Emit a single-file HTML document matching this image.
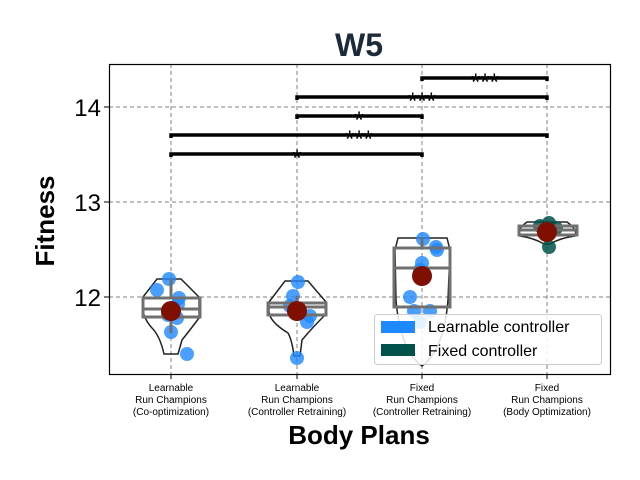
<!DOCTYPE html>
<html><head><meta charset="utf-8"><style>body{margin:0;background:#fff}svg{display:block}</style></head><body>
<svg width="640" height="480" xmlns="http://www.w3.org/2000/svg" font-family="Liberation Sans, DejaVu Sans, sans-serif">
<rect width="640" height="480" fill="#fff"/>
<g stroke="#808080" stroke-width="1" stroke-dasharray="4,3">
<line x1="171" y1="64" x2="171" y2="374"/><line x1="297" y1="64" x2="297" y2="374"/>
<line x1="422" y1="64" x2="422" y2="374"/><line x1="547" y1="64" x2="547" y2="374"/>
<line x1="109" y1="107" x2="610" y2="107"/><line x1="109" y1="202" x2="610" y2="202"/><line x1="109" y1="297" x2="610" y2="297"/>
</g>
<!-- violins -->
<g fill="none" stroke="#222" stroke-width="1.5">
<path d="M157,279 L181,279 L199,297 L199,318 Q190,330 182,340 L178,354 L164,354 Q160,336 152,328 Q143,318 143,308 L143,297 Z"/>
<path d="M285,281 L308,281 L326,302 L326,314 Q312,328 302,340 L300,356 L294,356 Q292,340 288,333 Q270,322 269,312 L269,302 Z"/>
<path d="M398,238 L447,238 L450,250 L448,300 Q444,350 422,366 Q400,350 396,300 L395,250 Z"/>
<path d="M527,222 L567,222 Q578,230 575,236 Q560,238 550,244 L544,244 Q534,238 520,236 Q516,230 527,222 Z"/>
</g>
<!-- points -->
<g fill="#1e88ff" fill-opacity="0.8">
<circle cx="169" cy="279" r="7"/><circle cx="157" cy="290" r="7"/><circle cx="179" cy="298" r="7"/><circle cx="178" cy="304" r="7"/><circle cx="168" cy="315" r="7"/><circle cx="177" cy="318" r="7"/><circle cx="171" cy="332" r="7"/><circle cx="187" cy="354" r="7"/>
<circle cx="298" cy="282" r="7"/><circle cx="293" cy="296" r="7"/><circle cx="290" cy="306" r="7"/><circle cx="310" cy="316" r="7"/><circle cx="307" cy="322" r="7"/><circle cx="297" cy="358" r="7"/>
<circle cx="423" cy="239" r="7"/><circle cx="436" cy="247" r="7"/><circle cx="437" cy="250" r="7"/><circle cx="422" cy="263" r="7"/><circle cx="420" cy="270" r="7"/><circle cx="410" cy="297" r="7"/><circle cx="414" cy="311" r="7"/><circle cx="430" cy="311" r="7"/><circle cx="420" cy="322" r="7"/>
</g>
<g fill="#00524a" fill-opacity="0.85">
<circle cx="549" cy="223" r="7"/><circle cx="540" cy="226" r="7"/><circle cx="556" cy="228" r="7"/><circle cx="549" cy="247" r="7"/>
</g>
<!-- boxes -->
<g fill="none" stroke="#707070" stroke-width="3">
<rect x="143" y="298" width="57" height="19"/><line x1="143" y1="309" x2="200" y2="309"/><line x1="171" y1="279" x2="171" y2="298"/><line x1="171" y1="317" x2="171" y2="333"/>
<rect x="268" y="303" width="58" height="12"/><line x1="268" y1="307" x2="326" y2="307"/><line x1="297" y1="296" x2="297" y2="303"/>
<rect x="394" y="248" width="56" height="59"/><line x1="394" y1="268" x2="450" y2="268"/><line x1="422" y1="237" x2="422" y2="248"/>
<rect x="519" y="226" width="58" height="9"/><line x1="519" y1="230" x2="577" y2="230"/>
</g>
<g fill="#7f0f00">
<circle cx="171" cy="311" r="10"/><circle cx="297" cy="311" r="10"/><circle cx="422" cy="276" r="10"/><circle cx="547" cy="232" r="10"/>
</g>
<!-- sig bars -->
<g stroke="#000" stroke-width="3.5" fill="none">
<path d="M171,157 V154 H422 V157"/><path d="M171,138 V135 H547 V138"/><path d="M297,119 V116 H422 V119"/><path d="M297,100 V97 H547 V100"/><path d="M422,81 V78 H547 V81"/>
</g>
<g font-size="24" text-anchor="middle" fill="#000">
<text x="297" y="166">*</text><text x="359" y="147">***</text><text x="359" y="128">*</text><text x="422" y="109">***</text><text x="485" y="90">***</text>
</g>
<!-- legend -->
<rect x="374.5" y="314.5" width="227" height="50" rx="3" fill="#fff" fill-opacity="0.85" stroke="#ccc"/>
<rect x="381" y="321" width="34" height="12" fill="#1e88ff"/>
<rect x="381" y="344" width="34" height="12" fill="#00524a"/>
<text x="428" y="332" font-size="16">Learnable controller</text>
<text x="428" y="356" font-size="16">Fixed controller</text>
<!-- axes -->
<rect x="109.5" y="64.5" width="501" height="310" fill="none" stroke="#000" stroke-width="1.2"/>
<g stroke="#000"><line x1="104" y1="107" x2="109" y2="107"/><line x1="104" y1="202" x2="109" y2="202"/><line x1="104" y1="297" x2="109" y2="297"/>
<line x1="171" y1="374" x2="171" y2="379"/><line x1="297" y1="374" x2="297" y2="379"/><line x1="422" y1="374" x2="422" y2="379"/><line x1="547" y1="374" x2="547" y2="379"/></g>
<g font-size="24" text-anchor="end"><text x="101" y="116">14</text><text x="101" y="211">13</text><text x="101" y="306">12</text></g>
<g font-size="10" text-anchor="middle">
<text x="171" y="391">Learnable</text><text x="171" y="403">Run Champions</text><text x="171" y="415">(Co-optimization)</text>
<text x="297" y="391">Learnable</text><text x="297" y="403">Run Champions</text><text x="297" y="415">(Controller Retraining)</text>
<text x="422" y="391">Fixed</text><text x="422" y="403">Run Champions</text><text x="422" y="415">(Controller Retraining)</text>
<text x="547" y="391">Fixed</text><text x="547" y="403">Run Champions</text><text x="547" y="415">(Body Optimization)</text>
</g>
<text x="359" y="444" font-size="26" font-weight="bold" text-anchor="middle">Body Plans</text>
<text transform="translate(54,221) rotate(-90)" font-size="26" font-weight="bold" text-anchor="middle">Fitness</text>
<text x="359" y="56" font-size="32" font-weight="bold" text-anchor="middle" fill="#1c2a3a">W5</text>
</svg>
</body></html>
